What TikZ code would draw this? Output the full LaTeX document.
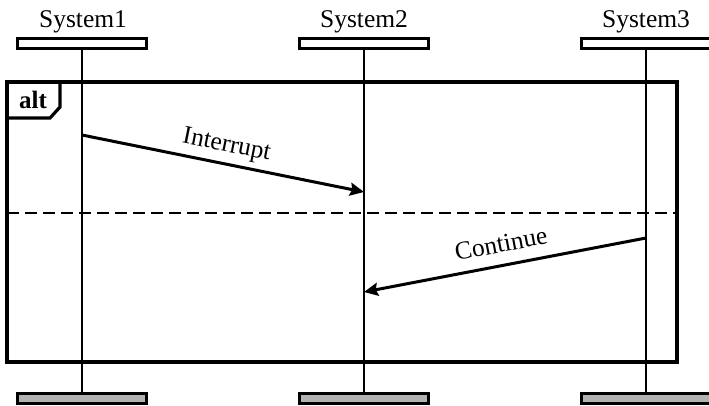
\documentclass[tikz,border=0pt]{standalone}
\usepackage{fontspec}
\setmainfont{Liberation Serif}
\usetikzlibrary{arrows.meta,calc}

\begin{document}
\begin{tikzpicture}[x=1pt,y=-1pt,
    headbar/.style={draw, line width=3pt, fill=white, minimum width=129pt, minimum height=10pt, inner sep=0pt},
    footbar/.style={headbar, fill=black!30},
    sysname/.style={anchor=base, font=\fontsize{25.5}{28}\selectfont},
    life/.style={line width=2.6pt},
    msg/.style={line width=3pt, -{Stealth[length=14pt,width=13pt,inset=2pt]}},
    msgtext/.style={font=\fontsize{25.5}{28}\selectfont, midway, sloped}]
    \useasboundingbox (0,0) rectangle (709,405);
    % lifeline heads and feet
    \node[headbar] (t1) at (82,43.5) {}; \node[headbar] (t2) at (364,43.5) {};
    \node[headbar] (t3) at (646,43.5) {};
    \node[footbar] (b1) at (82,398.5) {}; \node[footbar] (b2) at (364,398.5) {};
    \node[footbar] (b3) at (646,398.5) {};
    \node[sysname] (n1) at (83,27) {System1}; \node[sysname] (n2) at (364,27) {System2};
    \node[sysname] (n3) at (646,27) {System3};
    \draw[life] (t1.south) -- (b1.north); \draw[life] (t2.south) -- (b2.north);
    \draw[life] (t3.south) -- (b3.north);
    % alt fragment
    \coordinate (F1) at (7,82); \coordinate (F2) at (677,362);
    \draw[line width=3.2pt] (F1) rectangle (F2);
    \draw[line width=3.2pt] (7,118) -- (50,118) -- (60,107) -- (60,82);
    \node[font=\fontsize{25}{28}\selectfont\bfseries] (alt) at (33,100) {alt};
    \coordinate (D1) at (7,213); \coordinate (D2) at (677,213);
    \draw[line width=2.8pt, dash pattern=on 12pt off 6pt] (D1) -- (D2);
    % messages
    \coordinate (i1) at (82,135); \coordinate (i2) at (364,192);
    \coordinate (c1) at (646,238); \coordinate (c2) at (364,292);
    \draw[msg] (i1) -- node[msgtext, above=2pt] (lint) {Interrupt} (i2);
    \draw[msg] (c1) -- node[msgtext, above=8pt] (lcont) {Continue} (c2);
\end{tikzpicture}
\end{document}
